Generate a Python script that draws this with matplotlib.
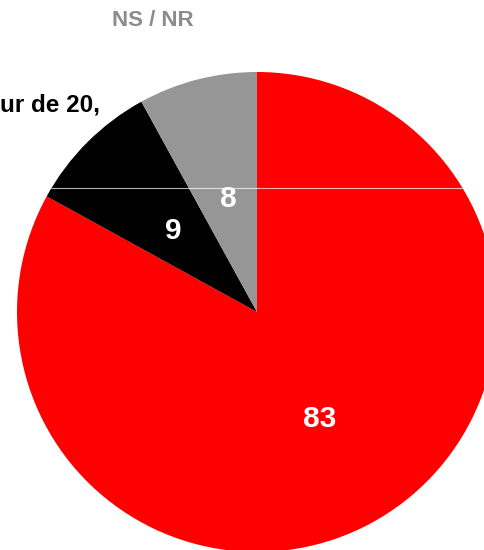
import matplotlib
matplotlib.use("Agg")
import matplotlib.pyplot as plt
from matplotlib.patches import Circle

values = [83, 9, 8]
colors = ["#FF0000", "#000000", "#969696"]
outer_labels = ["NS / NR", "ur de 20,"]

plt.rcParams['font.family'] = ['Liberation Sans', 'DejaVu Sans']

W, H = 485, 550
fig = plt.figure(figsize=(W / 100, H / 100), dpi=100)
ax = fig.add_axes([0, 0, 1, 1])

cx, cy, r = 257, H - 312, 240
wedges, texts, autotexts = ax.pie(
    values, colors=colors, startangle=90, counterclock=False,
    center=(cx, cy), radius=r, frame=True,
    autopct=lambda p: f"{p:.0f}", pctdistance=0.5,
    textprops=dict(color='white', fontsize=21.5, fontweight='bold'),
    wedgeprops=dict(linewidth=0))
for t in autotexts:
    x, y = t.get_position()
    t.set_position((x + 1.5, y - 3.5))
ax.set_xlim(0, W)
ax.set_ylim(0, H)
ax.set_aspect('equal')
ax.axis('off')

# thin light line across pie
clip = Circle((cx, cy), r, transform=ax.transData)
line, = ax.plot([0, W], [H - 188, H - 188], color='white', alpha=0.7, lw=0.8)
line.set_clip_path(clip)

ax.text(153, H - 20, outer_labels[0], color='#8c8c8c', fontsize=16,
        fontweight='bold', ha='center', va='center')
ax.text(100, H - 105, outer_labels[1], color='black', fontsize=17.5,
        fontweight='bold', ha='right', va='center')

fig.savefig("out.png", dpi=100)
